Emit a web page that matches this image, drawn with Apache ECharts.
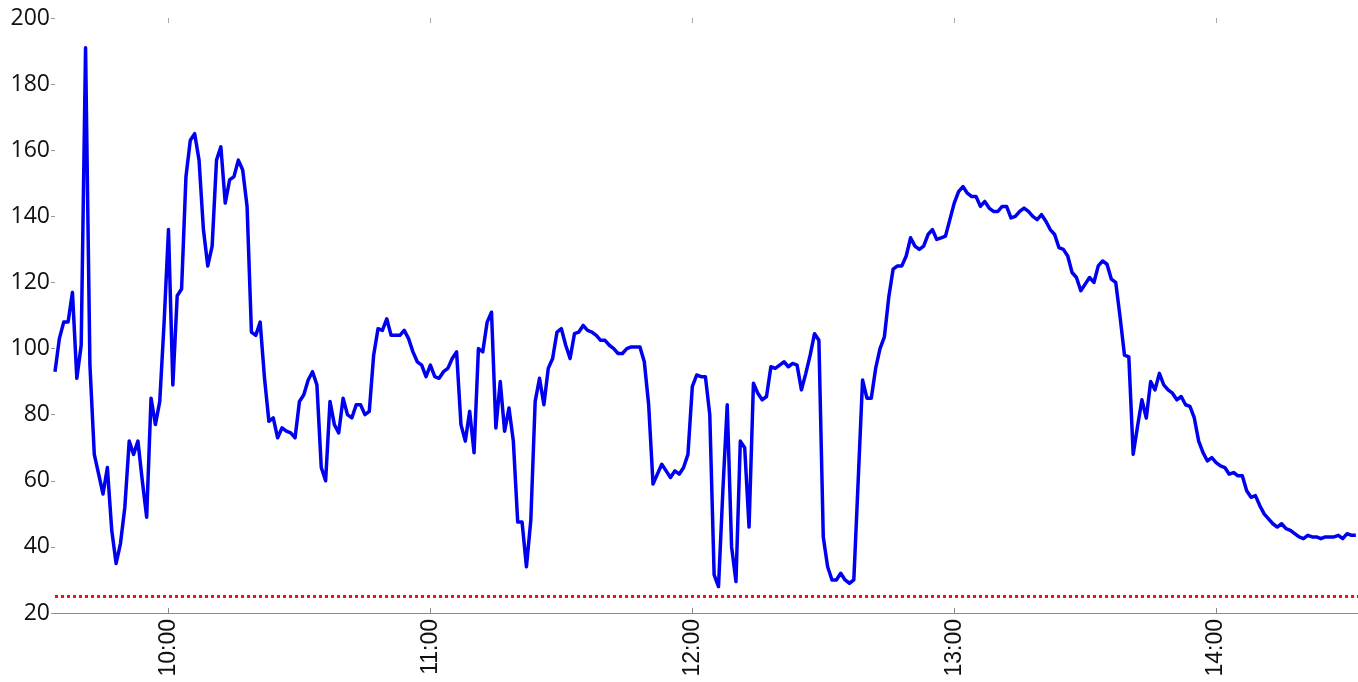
<!DOCTYPE html>
<html>
<head>
<meta charset="utf-8">
<script src="https://cdn.jsdelivr.net/npm/echarts@6/dist/echarts.min.js"></script>
<style>
html,body{margin:0;padding:0;background:#fff;}
#chart{width:1358px;height:682px;}
</style>
</head>
<body>
<div id="chart"></div>
<script>
// Time of the first sample; one sample per minute
const startTime = '09:34';
const endTime = '14:32.5';
// Values per minute, grouped by hour
const v0934 = [93,103,108,108,117,91,101,191,95,68,62,56,64,45,35,41,52,72,68,72,60,49,85,77,84,108];
const v10 = [136,89,116,118,152,163,165,157,136,125,
             131,157,161,144,151,152,157,154,143,105,
             104,108,91,78,79,73,76,75,74.5,73,
             84,86,90.5,93,89,64,60,84,77,74.5,
             85,80,79,83,83,80,81,98,106,105.5,
             109,104,104,104,105.5,103,99,96,95,91.5];
const v11 = [95,91.5,91,93,94,97,99,77,72,81,
             68.5,100,99,108,111,76,90,75,82,72,
             47.5,47.5,34,48,84,91,83,94,97,105,
             106,101,97,104.5,105,107,105.5,105,104,102.5,
             102.5,101,100,98.5,98.5,100,100.5,100.5,100.5,96,
             83,59,62,65,63,61,63,62,64,68];
const v12 = [88.5,92,91.5,91.5,80,31.5,28,57,83,40,
             29.5,72,70,46,89.5,86.5,84.5,85.5,94.5,94,
             95,96,94.5,95.5,95,87.5,92.5,98,104.5,102.5,
             43,34,30,30,32,30,29,30,60,90.5,
             85,85,94,100,103.5,115.5,124,125,125,128,
             133.5,131,130,131,134.5,136,133,133.5,134,139];
const v13 = [144,147.5,149,147,146,146,143,144.5,142.5,141.5,
             141.5,143,143,139.5,140,141.5,142.5,141.5,140,139,
             140.5,138.5,136,134.5,130.5,130,128,123,121.5,117.5,
             119.5,121.5,120,125,126.5,125.5,121,120,109.5,98,
             97.5,68,76.5,84.5,79,90,87.5,92.5,89,87.5,
             86.5,84.5,85.5,83,82.5,79,72,68.5,66,67];
const v14 = [65.5,64.5,64,62,62.5,61.5,61.5,57,55,55.5,
             52.5,50,48.5,47,46,47,45.5,45,44,43,
             42.5,43.5,43,43,42.5,43,43,43,43.5,42.5,
             44,43.5,43.5];
// Reference threshold (red dotted line)
const refLevel = 25;
// Axis ticks
const xTickLabels = ['10:00','11:00','12:00','13:00','14:00'];
const yTicks = [20,40,60,80,100,120,140,160,180,200];

function toMin(s){const p=s.split(':');return (+p[0])*60+(+p[1]);}
function fmt(m){const h=Math.floor(m/60), mm=Math.round(m%60);return (h<10?'0':'')+h+':'+(mm<10?'0':'')+mm;}

const start = toMin(startTime);
const end = toMin(endTime);
const values = [].concat(v0934, v10, v11, v12, v13, v14);
const lineData = values.map((v,i)=>[start+i, v]);
const tickVals = xTickLabels.map(toMin);

const chart = echarts.init(document.getElementById('chart'), null, {renderer:'canvas'});
chart.setOption({
  animation:false,
  backgroundColor:'#ffffff',
  grid:{left:55,right:0,top:18,bottom:69,containLabel:false},
  xAxis:[{
    type:'value', min:start, max:end, position:'bottom',
    axisLine:{show:true,lineStyle:{color:'#8a8a8a',width:1.2}},
    axisTick:{show:true,inside:true,length:5,customValues:tickVals,lineStyle:{color:'#8a8a8a'}},
    axisLabel:{show:true,customValues:tickVals,rotate:90,margin:6,color:'#111',
      fontFamily:'Liberation Sans',fontSize:23,formatter:fmt},
    splitLine:{show:false}
  },{
    type:'value', min:start, max:end, position:'top',
    axisLine:{show:false},
    axisTick:{show:true,inside:true,length:5,customValues:tickVals,lineStyle:{color:'#aaaaaa'}},
    axisLabel:{show:false},
    splitLine:{show:false}
  }],
  yAxis:{
    type:'value', min:yTicks[0], max:yTicks[yTicks.length-1], interval:20,
    axisLine:{show:false},
    axisTick:{show:true,inside:false,length:4,lineStyle:{color:'#999'}},
    axisLabel:{color:'#111',fontFamily:'Open Sans',fontSize:23,margin:5},
    splitLine:{show:false}
  },
  series:[{
    type:'line', data:lineData, showSymbol:false, symbol:'none',
    lineStyle:{color:'#0000f0',width:3.5,join:'round'},
    z:3
  },{
    type:'line', data:[[start,refLevel],[end,refLevel]], showSymbol:false, symbol:'none',
    lineStyle:{color:'#ee1111',width:3,type:[3,3]},
    z:2
  }]
});
</script>
</body>
</html>
